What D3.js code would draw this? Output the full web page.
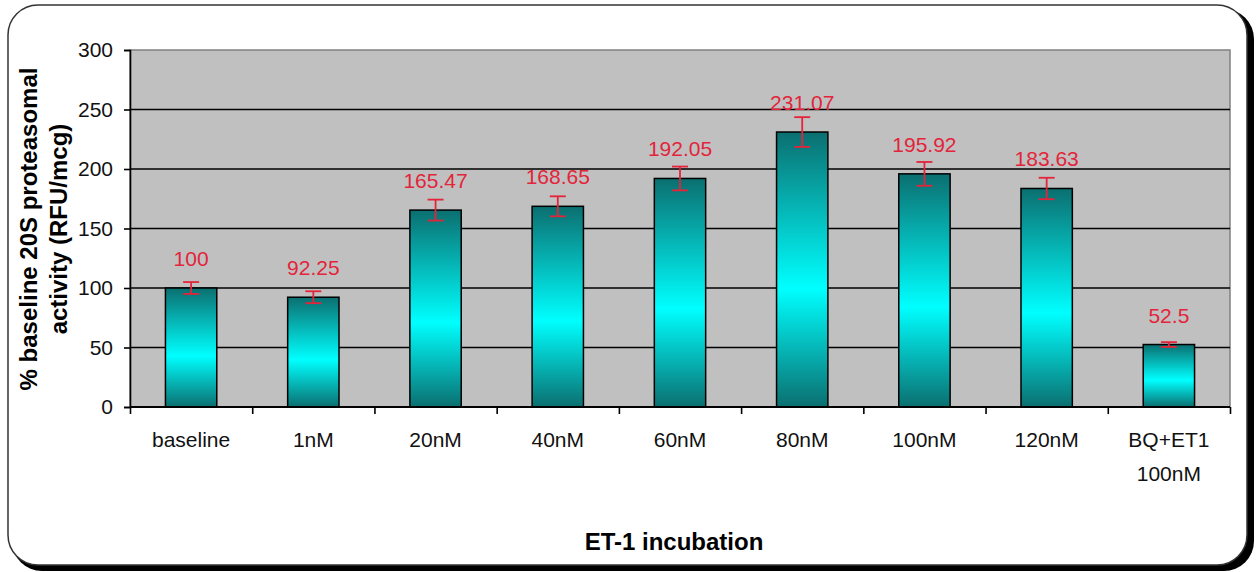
<!DOCTYPE html>
<html>
<head>
<meta charset="utf-8">
<script src="https://cdn.jsdelivr.net/npm/d3@7"></script>
<style>
  html, body { margin: 0; padding: 0; background: #ffffff; }
  svg { display: block; }
  text { font-family: "Liberation Sans", Arial, sans-serif; }
</style>
</head>
<body>
<svg id="chart" width="1259" height="572"></svg>
<script>
// Proteasome activity after ET-1 incubation (% of baseline)
const categories = ["baseline", "1nM", "20nM", "40nM", "60nM", "80nM", "100nM", "120nM", "BQ+ET1\n100nM"];
const values = [100, 92.25, 165.47, 168.65, 192.05, 231.07, 195.92, 183.63, 52.5];
const errors = [5, 5, 8.8, 8.4, 10, 12.5, 10, 9, 2];
const yTicks = [0, 50, 100, 150, 200, 250, 300];

const svg = d3.select("#chart");

// Card frame with a drop shadow on the lower-right
svg.append("rect")
  .attr("x", 12).attr("y", 9).attr("width", 1242).attr("height", 562)
  .attr("rx", 30).attr("ry", 30).attr("fill", "#000");
svg.append("rect")
  .attr("x", 8).attr("y", 5).attr("width", 1239).attr("height", 560)
  .attr("rx", 30).attr("ry", 30)
  .attr("fill", "#fff").attr("stroke", "#333").attr("stroke-width", 1.5);

const plot = { left: 130, right: 1230, top: 50, bottom: 407 };

const x = d3.scaleBand()
  .domain(categories)
  .range([plot.left, plot.right])
  .padding(0);
const xIndex = d3.scaleLinear()
  .domain([0, categories.length])
  .range([plot.left, plot.right]);
const y = d3.scaleLinear()
  .domain([0, 300])
  .range([plot.bottom, plot.top]);

// Plot background
svg.append("rect")
  .attr("x", plot.left).attr("y", plot.top)
  .attr("width", plot.right - plot.left).attr("height", plot.bottom - plot.top)
  .attr("fill", "#c0c0c0").attr("stroke", "#808080").attr("stroke-width", 1.5);

// Horizontal gridlines
svg.append("g")
  .selectAll("line")
  .data(yTicks.filter(d => d > 0 && d < 300))
  .join("line")
  .attr("x1", plot.left).attr("x2", plot.right)
  .attr("y1", d => y(d)).attr("y2", d => y(d))
  .attr("stroke", "#000").attr("stroke-width", 1.6);

// Bar gradient: teal at the ends, turquoise near the middle
const defs = svg.append("defs");
const grad = defs.append("linearGradient")
  .attr("id", "barFill")
  .attr("x1", 0).attr("y1", 0).attr("x2", 0).attr("y2", 1);
grad.append("stop").attr("offset", "0%").attr("stop-color", "#0b6f70");
grad.append("stop").attr("offset", "57%").attr("stop-color", "#00ffff");
grad.append("stop").attr("offset", "100%").attr("stop-color", "#0b6f70");

const barW = x.bandwidth() * 0.42;

svg.append("g")
  .selectAll("rect")
  .data(values)
  .join("rect")
  .attr("x", (d, i) => x(categories[i]) + (x.bandwidth() - barW) / 2)
  .attr("y", d => y(d))
  .attr("width", barW)
  .attr("height", d => y(0) - y(d))
  .attr("fill", "url(#barFill)")
  .attr("stroke", "#000").attr("stroke-width", 1.5);

// Error bars
const red = "#e3243b";
const cap = 8;
const eb = svg.append("g").attr("stroke", red).attr("stroke-width", 1.8);
values.forEach((v, i) => {
  const cx = x(categories[i]) + x.bandwidth() / 2;
  const hi = y(v + errors[i]), lo = y(v - errors[i]);
  eb.append("line").attr("x1", cx).attr("x2", cx).attr("y1", hi).attr("y2", lo);
  eb.append("line").attr("x1", cx - cap).attr("x2", cx + cap).attr("y1", hi).attr("y2", hi);
  eb.append("line").attr("x1", cx - cap).attr("x2", cx + cap).attr("y1", lo).attr("y2", lo);
});

// Value labels
svg.append("g")
  .selectAll("text")
  .data(values)
  .join("text")
  .attr("x", (d, i) => x(categories[i]) + x.bandwidth() / 2)
  .attr("y", d => y(d) - 22)
  .attr("text-anchor", "middle")
  .attr("font-size", 21)
  .attr("fill", red)
  .text(d => String(d));

// Y axis
const yAxis = svg.append("g")
  .attr("transform", `translate(${plot.left},0)`)
  .call(d3.axisLeft(y).tickValues(yTicks).tickSize(6).tickPadding(11));
yAxis.select(".domain").attr("stroke", "#000").attr("stroke-width", 1.6);
yAxis.selectAll(".tick line").attr("stroke", "#000").attr("stroke-width", 1.6);
yAxis.selectAll(".tick text")
  .attr("font-size", 21).attr("fill", "#111")
  .attr("font-family", "Liberation Sans, Arial, sans-serif");

// X axis with ticks at category boundaries
const xAxis = svg.append("g")
  .attr("transform", `translate(0,${plot.bottom})`)
  .call(d3.axisBottom(xIndex).tickValues(d3.range(categories.length + 1)).tickSize(7).tickFormat(""));
xAxis.select(".domain").attr("stroke", "#000").attr("stroke-width", 1.8).attr("d", `M${plot.left},0H${plot.right}`);
xAxis.selectAll(".tick line").attr("stroke", "#000").attr("stroke-width", 1.6);

// Category labels (multi-line where needed)
const catG = svg.append("g");
categories.forEach(c => {
  const t = catG.append("text")
    .attr("x", x(c) + x.bandwidth() / 2)
    .attr("y", 447)
    .attr("text-anchor", "middle")
    .attr("font-size", 21)
    .attr("fill", "#111");
  c.split("\n").forEach((line, k) => {
    t.append("tspan")
      .attr("x", x(c) + x.bandwidth() / 2)
      .attr("y", 447 + k * 34)
      .text(line);
  });
});

// Axis titles
svg.append("text")
  .attr("x", 674).attr("y", 550)
  .attr("text-anchor", "middle")
  .attr("font-size", 24).attr("font-weight", "bold").attr("fill", "#000")
  .text("ET-1 incubation");

const yTitle = svg.append("text")
  .attr("transform", "translate(0,229) rotate(-90)")
  .attr("text-anchor", "middle")
  .attr("font-size", 24).attr("font-weight", "bold").attr("fill", "#000");
yTitle.append("tspan").attr("x", 0).attr("y", 37).text("% baseline 20S proteasomal");
yTitle.append("tspan").attr("x", 0).attr("y", 67).text("activity (RFU/mcg)");
</script>
</body>
</html>
